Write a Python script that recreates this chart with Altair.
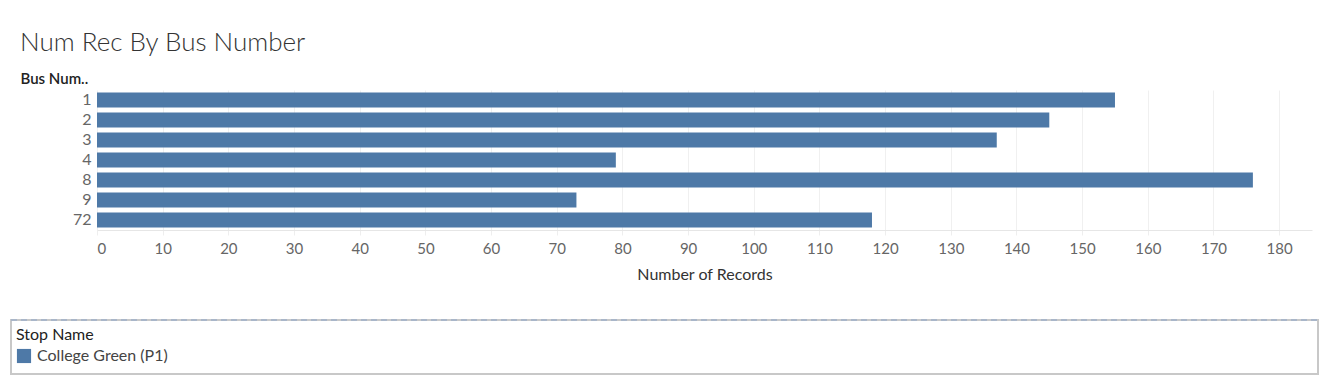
import altair as alt
import pandas as pd

bus_numbers = ["1", "2", "3", "4", "8", "9", "72"]
num_records = [155, 145, 137, 79, 176, 73, 118]
stop_name = ["College Green (P1)"] * len(bus_numbers)

df = pd.DataFrame({"Bus Number": bus_numbers, "Number of Records": num_records, "Stop Name": stop_name})

FONT = "Lato"

bars = alt.Chart(df).mark_bar(color="#4e79a7").encode(
    y=alt.Y("Bus Number:N", sort=bus_numbers,
            scale=alt.Scale(paddingInner=0.25, paddingOuter=0.125),
            axis=alt.Axis(title="Bus Num..", titleAngle=0, titleX=-77, titleY=-7,
                          titleAlign="left", titleBaseline="alphabetic",
                          titleFont=FONT, titleFontSize=15, titleFontWeight=600, titleColor="#222",
                          labelFont=FONT, labelFontSize=16, labelColor="#666", labelPadding=6,
                          ticks=False, domain=False, grid=False)),
    x=alt.X("Number of Records:Q", scale=alt.Scale(domain=[0, 185], nice=False),
            axis=alt.Axis(values=list(range(0, 181, 10)), title="Number of Records",
                          titleFont=FONT, titleFontSize=16, titleFontWeight="normal", titleColor="#333",
                          titlePadding=10,
                          labelFont=FONT, labelFontSize=15, labelColor="#666", labelPadding=6,
                          labelFlush=True,
                          grid=True, gridColor="#f0f0f0", domainColor="#e6e6e6",
                          tickColor="#eeeeee", tickSize=5)),
    color=alt.Color("Stop Name:N", scale=alt.Scale(range=["#4e79a7"]),
                    legend=alt.Legend(orient="none", legendX=-81, legendY=237, title="Stop Name",
                                      titleFont=FONT, titleFontSize=16, titleFontWeight="normal",
                                      titleColor="#222", titlePadding=5,
                                      labelFont=FONT, labelFontSize=16, labelColor="#444",
                                      symbolType="square", symbolSize=200, symbolStrokeWidth=0,
                                      labelOffset=5, padding=0)),
)

frame = alt.Chart(alt.Data(values=[{}])).mark_rect(fill="white", fillOpacity=0, stroke="#c8c8c8", strokeWidth=2).encode(
    x=alt.value(-86), x2=alt.value(1221), y=alt.value(230), y2=alt.value(284)
)
frame_top = alt.Chart(alt.Data(values=[{}])).mark_rule(color="#a9b6c9", strokeWidth=2, strokeDash=[6, 4]).encode(
    x=alt.value(-86), x2=alt.value(1221), y=alt.value(230)
)

chart = alt.layer(frame, frame_top, bars).properties(
    width=1215, height=140,
    title=alt.TitleParams("Num Rec By Bus Number", anchor="start", frame="group", dx=-77, dy=-5,
                          font=FONT, fontSize=26, fontWeight=300, color="#333", offset=10),
    autosize=alt.AutoSizeParams(type="none"),
    padding={"left": 89, "top": 82, "right": 7, "bottom": 148},
).configure_view(stroke=None)

chart.save("out.html", embed_options={"renderer": "svg", "actions": False})
